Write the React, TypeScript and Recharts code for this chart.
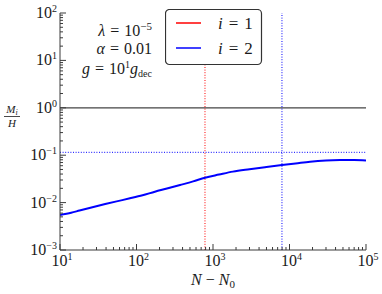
import React from 'react';
import { LineChart, Line, XAxis, YAxis, ReferenceLine, Legend } from 'recharts';

const FONT = "'Liberation Serif', 'DejaVu Serif', serif";

// Data: N - N0 values and M_2/H values for i = 2
const nValues = [10, 14, 18, 25, 39, 55, 82, 120, 174, 250, 371, 550, 786, 1200, 1820, 3000, 5000, 7970, 12000, 18600, 30000, 45700, 70000, 100000];
const m2Values = [0.0055, 0.0061, 0.0068, 0.0078, 0.0093, 0.0106, 0.0123, 0.0143, 0.017, 0.0198, 0.0235, 0.028, 0.0335, 0.039, 0.045, 0.0506, 0.0564, 0.062, 0.067, 0.073, 0.0773, 0.079, 0.0794, 0.0775];

const xMajorTicks = [10, 100, 1000, 10000, 100000];
const yMajorTicks = [0.001, 0.01, 0.1, 1, 10, 100];
const minorMultipliers = [2, 3, 4, 5, 6, 7, 8, 9];

const unityLevel = 1;
const i2Level = 0.115;
const i1Crossing = 786;
const i2Crossing = 7970;

const legendLabels = ['1', '2'];
const legendColors = ['#ff0000', '#0000ff'];

const data = nValues.map((n, i) => ({ n, m2: m2Values[i] }));

function withMinor(majors: number[]) {
  const out: number[] = [];
  for (let i = 0; i < majors.length; i++) {
    out.push(majors[i]);
    if (i < majors.length - 1) for (const k of minorMultipliers) out.push(majors[i] * k);
  }
  return out;
}
const xTicks = withMinor(xMajorTicks);
const yTicks = withMinor(yMajorTicks);

const isMajor = (v: number) => Math.abs(Math.log10(v) - Math.round(Math.log10(v))) < 1e-6;
const expOf = (v: number) => {
  const e = Math.round(Math.log10(v));
  return e < 0 ? '\u2212' + Math.abs(e) : String(e);
};

const AX = '#3a3a3a';
const TXT = '#1a1a1a';

const Pow = ({ v }: { v: number }) => (
  <>
    10<tspan dy={-6} fontSize={10}>{expOf(v)}</tspan>
  </>
);

const BottomTick = (props: any) => {
  const { x, y, payload } = props;
  const v = payload.value;
  const major = isMajor(v);
  const len = major ? 6 : 3;
  return (
    <g>
      <line x1={x} y1={y} x2={x} y2={y - len} stroke={AX} strokeWidth={1} />
      {major && (
        <text x={x + 2} y={y + 16} textAnchor="middle" fontFamily={FONT} fontSize={16} fill={TXT}>
          <Pow v={v} />
        </text>
      )}
    </g>
  );
};

const TopTick = (props: any) => {
  const { x, y, payload } = props;
  const len = isMajor(payload.value) ? 6 : 3;
  return <line x1={x} y1={y} x2={x} y2={y + len} stroke={AX} strokeWidth={1} />;
};

const LeftTick = (props: any) => {
  const { x, y, payload } = props;
  const v = payload.value;
  const major = isMajor(v);
  const len = major ? 6 : 3;
  return (
    <g>
      <line x1={x} y1={y} x2={x + len} y2={y} stroke={AX} strokeWidth={1} />
      {major && (
        <text x={x - 3} y={y + 5} textAnchor="end" fontFamily={FONT} fontSize={16} fill={TXT}>
          <Pow v={v} />
        </text>
      )}
    </g>
  );
};

const RightTick = (props: any) => {
  const { x, y, payload } = props;
  const len = isMajor(payload.value) ? 6 : 3;
  return <line x1={x} y1={y} x2={x - len} y2={y} stroke={AX} strokeWidth={1} />;
};

const LegendBox = () => (
  <svg width={98} height={57} style={{ display: 'block' }}>
    <rect x={0.5} y={0.5} width={96} height={55} rx={4} ry={4} fill="#ffffff" stroke="#333" strokeWidth={1.2} />
    {legendLabels.map((lab, i) => (
      <g key={lab}>
        <line x1={11} x2={36} y1={14 + i * 25} y2={14 + i * 25} stroke={legendColors[i]} strokeWidth={1.5} />
        <text x={53} y={20 + i * 25} fontFamily={FONT} fontSize={17} fill={TXT}>
          <tspan fontStyle="italic">i</tspan>
          <tspan dx={6}>=</tspan>
          <tspan dx={6}>{lab}</tspan>
        </text>
      </g>
    ))}
  </svg>
);

export default function App() {
  return (
    <div style={{ position: 'absolute', left: 0, top: 0, width: 382, height: 294, background: '#fff' }}>
      <LineChart width={382} height={294} data={data} margin={{ top: 13, right: 16, left: 0, bottom: 0 }}>
        <XAxis
          xAxisId="b"
          dataKey="n"
          type="number"
          scale="log"
          domain={[10, 100000]}
          allowDataOverflow
          ticks={xTicks}
          interval={0}
          tickSize={0}
          tickMargin={0}
          tickLine={false}
          height={44}
          axisLine={{ stroke: AX, strokeWidth: 1 }}
          tick={BottomTick}
        />
        <XAxis
          xAxisId="t"
          dataKey="n"
          orientation="top"
          type="number"
          scale="log"
          domain={[10, 100000]}
          allowDataOverflow
          ticks={xTicks}
          interval={0}
          tickSize={0}
          tickMargin={0}
          tickLine={false}
          height={0}
          axisLine={{ stroke: AX, strokeWidth: 1 }}
          tick={TopTick}
        />
        <YAxis
          yAxisId="l"
          type="number"
          scale="log"
          domain={[0.001, 100]}
          allowDataOverflow
          ticks={yTicks}
          interval={0}
          tickSize={0}
          tickMargin={0}
          tickLine={false}
          width={60}
          axisLine={{ stroke: AX, strokeWidth: 1 }}
          tick={LeftTick}
        />
        <YAxis
          yAxisId="r"
          orientation="right"
          type="number"
          scale="log"
          domain={[0.001, 100]}
          allowDataOverflow
          ticks={yTicks}
          interval={0}
          tickSize={0}
          tickMargin={0}
          tickLine={false}
          width={0}
          axisLine={{ stroke: AX, strokeWidth: 1 }}
          tick={RightTick}
        />
        <ReferenceLine xAxisId="b" yAxisId="l" y={unityLevel} stroke="#444" strokeWidth={1.2} />
        <ReferenceLine xAxisId="b" yAxisId="l" y={i2Level} stroke="#0000ff" strokeWidth={1} strokeDasharray="1 1.6" />
        <ReferenceLine xAxisId="b" yAxisId="l" x={i1Crossing} stroke="#ff0000" strokeWidth={1} strokeDasharray="1 1.6" />
        <ReferenceLine xAxisId="b" yAxisId="l" x={i2Crossing} stroke="#0000ff" strokeWidth={1} strokeDasharray="1 1.6" />
        <Line
          xAxisId="b"
          yAxisId="l"
          dataKey="m2"
          type="monotone"
          stroke="#0000ff"
          strokeWidth={2}
          dot={false}
          isAnimationActive={false}
        />
        <Line
          xAxisId="t"
          yAxisId="r"
          dataKey="m2"
          type="monotone"
          stroke="none"
          dot={false}
          legendType="none"
          isAnimationActive={false}
        />
        <Legend
          layout="vertical"
          align="center"
          verticalAlign="middle"
          content={() => <LegendBox />}
          wrapperStyle={{ position: 'absolute', left: 165, top: 9, width: 98, height: 57 }}
        />
      </LineChart>
      <svg
        width={382}
        height={294}
        style={{ position: 'absolute', left: 0, top: 0, pointerEvents: 'none' }}
      >
        <g fontFamily={FONT} fill={TXT} fontSize={16}>
          <text x={152} y={36} textAnchor="end">
            <tspan fontStyle="italic">λ</tspan>
            <tspan dx={5}>=</tspan>
            <tspan dx={5}>10</tspan>
            <tspan dy={-6} fontSize={11}>{'\u22125'}</tspan>
          </text>
          <text x={152} y={54} textAnchor="end">
            <tspan fontStyle="italic">α</tspan>
            <tspan dx={5}>=</tspan>
            <tspan dx={5}>0.01</tspan>
          </text>
          <text x={152} y={74} textAnchor="end">
            <tspan fontStyle="italic">g</tspan>
            <tspan dx={5}>=</tspan>
            <tspan dx={5}>10</tspan>
            <tspan dy={-6} fontSize={10}>1</tspan>
            <tspan dy={6} fontStyle="italic">g</tspan>
            <tspan dy={3} fontSize={10}>dec</tspan>
          </text>
          <text x={213} y={285} textAnchor="middle">
            <tspan fontStyle="italic">N</tspan>
            <tspan dx={4}>{'\u2212'}</tspan>
            <tspan dx={4} fontStyle="italic">N</tspan>
            <tspan dy={3} fontSize={11}>0</tspan>
          </text>
        </g>
        <g fontFamily={FONT} fill={TXT} fontSize={11}>
          <text x={12} y={113} textAnchor="middle">
            <tspan fontStyle="italic">M</tspan>
            <tspan dy={2} fontSize={8} fontStyle="italic">i</tspan>
          </text>
          <line x1={4} x2={20} y1={116.5} y2={116.5} stroke={TXT} strokeWidth={0.8} />
          <text x={12} y={127} textAnchor="middle" fontStyle="italic">H</text>
        </g>
      </svg>
    </div>
  );
}
